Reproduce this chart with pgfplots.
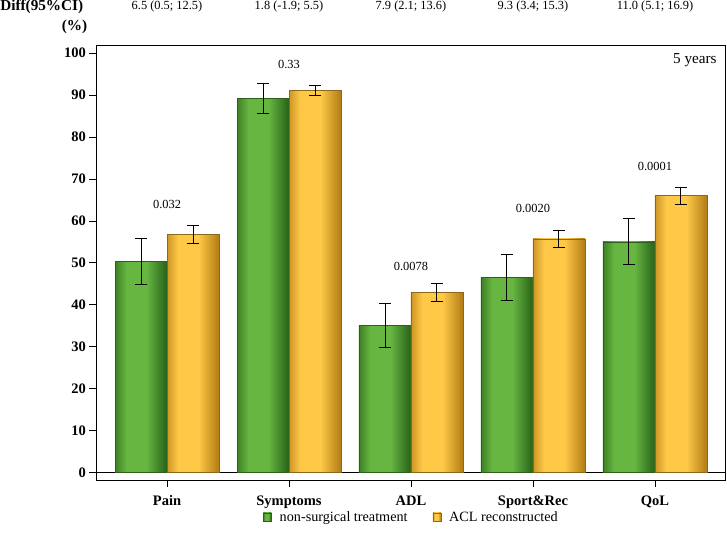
\documentclass[border=0pt]{standalone}
\usepackage{pgfplots}
\usepackage{pgfplotstable}
\pgfplotsset{compat=1.18}
\usepackage{fontspec}
\setmainfont{Liberation Serif}
\definecolor{gA}{RGB}{62,128,38}
\definecolor{gB}{RGB}{104,182,66}
\definecolor{gC}{RGB}{38,98,24}
\definecolor{gborder}{RGB}{45,95,25}
\definecolor{oA}{RGB}{205,150,38}
\definecolor{oB}{RGB}{255,201,72}
\definecolor{oC}{RGB}{178,124,22}
\definecolor{oborder}{RGB}{140,105,25}
\pgfdeclarehorizontalshading{gshade}{100bp}{color(0bp)=(gA); color(25bp)=(gA); color(36bp)=(gB); color(55bp)=(gB); color(75bp)=(gC); color(100bp)=(gC)}
\pgfdeclarehorizontalshading{oshade}{100bp}{color(0bp)=(oA); color(25bp)=(oA); color(36bp)=(oB); color(55bp)=(oB); color(75bp)=(oC); color(100bp)=(oC)}
\pgfplotsset{
  gstyle/.style={ybar, bar width=52pt, bar shift=-26pt, draw=gborder, line width=0.6pt, shade, shading=gshade},
  ostyle/.style={ybar, bar width=52pt, bar shift=26pt, draw=oborder, line width=0.6pt, shade, shading=oshade},
  errstyle/.style={forget plot, draw=none, mark=none,
    error bars/.cd, y dir=both, y explicit,
    error bar style={black, line width=1pt},
    error mark options={black, line width=1pt, mark size=6pt, rotate=90}},
}
\pgfplotstableread{
x xg xo g gerr o oerr
0 -0.2131 0.2131 50.4 5.5 56.8 2.1
1 0.7869 1.2131 89.2 3.5 91.1 1.25
2 1.7869 2.2131 35.1 5.3 43.0 2.1
3 2.7869 3.2131 46.5 5.45 55.7 2.1
4 3.7869 4.2131 55.0 5.5 66.0 2.0
}\data
\begin{document}
\begin{tikzpicture}
\useasboundingbox (-96.5pt,-59pt) rectangle (630.5pt,480pt);
\begin{axis}[
  scale only axis,
  width=628.5pt, height=434.3pt,
  xmin=-0.578, xmax=4.574,
  ymin=-1.8, ymax=101.8,
  clip=false,
  axis line style={line width=1pt},
  tick align=outside, tick pos=left,
  major tick length=7pt,
  tick style={black, line width=0.8pt},
  xtick={0,1,2,3,4},
  xticklabels={Pain,Symptoms,ADL,Sport\&Rec,QoL},
  xticklabel style={yshift=-5pt},
  ytick={0,10,...,100},
  /pgf/number format/assume math mode=true,
  ticklabel style={font=\fontsize{14.5}{16}\selectfont\bfseries},
  extra y ticks={0},
  extra y tick labels={},
  extra y tick style={grid=major, major grid style={black, line width=0.9pt}},
  legend style={at={(rel axis cs:0.501,-0.085)}, anchor=center, draw=none, fill=none,
    legend columns=2, font=\fontsize{14.2}{16}\selectfont,
    /tikz/every even column/.append style={column sep=23pt}},
  legend image code/.code={\draw[#1] (0pt,-4pt) rectangle (8pt,4pt); \path (14pt,0pt);},
]
% green bars: non-surgical treatment
\addplot[gstyle] coordinates {(0,50.4)};
\addlegendentry{non-surgical treatment}
\addplot[ostyle] coordinates {(0,56.8)};
\addlegendentry{ACL reconstructed}
\addplot[gstyle, forget plot] coordinates {(1,89.2)};
\addplot[gstyle, forget plot] coordinates {(2,35.1)};
\addplot[gstyle, forget plot] coordinates {(3,46.5)};
\addplot[gstyle, forget plot] coordinates {(4,55.0)};
% orange bars: ACL reconstructed
\addplot[ostyle, forget plot] coordinates {(1,91.1)};
\addplot[ostyle, forget plot] coordinates {(2,43.0)};
\addplot[ostyle, forget plot] coordinates {(3,55.7)};
\addplot[ostyle, forget plot] coordinates {(4,66.0)};
% error bars
\addplot[errstyle] table[x=xg, y=g, y error=gerr]{\data};
\addplot[errstyle] table[x=xo, y=o, y error=oerr]{\data};
\begin{scope}[every node/.style={font=\fontsize{12.4}{14}\selectfont}]
\node at (axis cs:0,63.9) {0.032};
\node at (axis cs:1,97.4) {0.33};
\node at (axis cs:2,49.2) {0.0078};
\node at (axis cs:3,63.0) {0.0020};
\node at (axis cs:4,73.0) {0.0001};
\node at (axis cs:0,111.1) {6.5 (0.5; 12.5)};
\node at (axis cs:1,111.1) {1.8 (-1.9; 5.5)};
\node at (axis cs:2,111.1) {7.9 (2.1; 13.6)};
\node at (axis cs:3,111.1) {9.3 (3.4; 15.3)};
\node at (axis cs:4,111.1) {11.0 (5.1; 16.9)};
\end{scope}
\node[anchor=east, font=\fontsize{15.2}{17}\selectfont\bfseries, inner sep=0pt] at (axis cs:-0.686,111.1) {Diff(95\%CI)};
\node[anchor=east, font=\fontsize{15.2}{17}\selectfont\bfseries, inner sep=0pt] at (axis cs:-0.653,106.4) {(\%)};
\node[anchor=east, font=\fontsize{15.2}{17}\selectfont, inner sep=0pt] at (rel axis cs:0.987,0.967) {5 years};
\end{axis}
\end{tikzpicture}
\end{document}
